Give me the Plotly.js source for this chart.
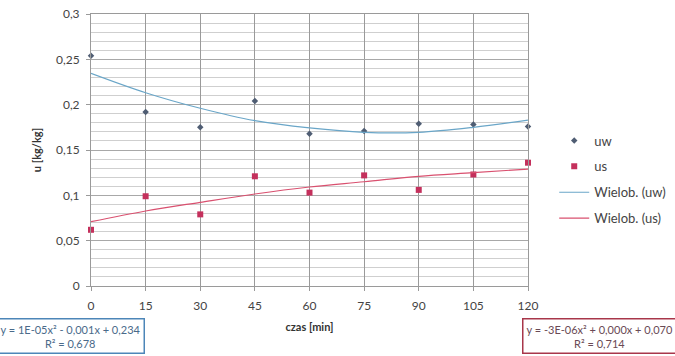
<!DOCTYPE html>
<html><head><meta charset="utf-8">
<script src="https://cdn.plot.ly/plotly-3.0.1.min.js"></script>
<style>html,body{margin:0;padding:0;background:#fff}#c{width:675px;height:356px}</style>
</head><body><div id="c"></div>
<script>
const czas = [0, 15, 30, 45, 60, 75, 90, 105, 120];
const uw = [0.254, 0.192, 0.175, 0.204, 0.168, 0.171, 0.179, 0.178, 0.176];
const us = [0.062, 0.099, 0.079, 0.121, 0.103, 0.122, 0.106, 0.123, 0.136];
const trendUw = [0.2346, 0.2132, 0.196, 0.1823, 0.1743, 0.1695, 0.1695, 0.175, 0.183];
const trendUs = [0.0709, 0.0827, 0.0923, 0.1015, 0.1092, 0.115, 0.121, 0.125, 0.129];
const xTicks = [0, 15, 30, 45, 60, 75, 90, 105, 120];
const eqUw = "y = 1E-05x² - 0,001x + 0,234<br>R² = 0,678";
const eqUs = "y = -3E-06x² + 0,000x + 0,070<br>R² = 0,714";

const F = "Lato, 'Open Sans', sans-serif";
const data = [
  {x: czas, y: uw, name: "uw", legendgroup: "a", mode: "markers", type: "scatter", cliponaxis: false,
   marker: {symbol: "diamond", size: 5, color: "#4f5d73"}},
  {x: czas, y: us, name: "us", legendgroup: "b", mode: "markers", type: "scatter", cliponaxis: false,
   marker: {symbol: "square", size: 6, color: "#c4305c"}},
  {x: czas, y: trendUw, name: "Wielob. (uw)", legendgroup: "c", mode: "lines", type: "scatter",
   line: {shape: "spline", color: "#6aa6c8", width: 1.2}},
  {x: czas, y: trendUs, name: "Wielob. (us)", legendgroup: "d", mode: "lines", type: "scatter",
   line: {shape: "spline", color: "#d9506f", width: 1.2}}
];
const layout = {
  width: 675, height: 356,
  margin: {l: 91, r: 147, t: 14, b: 70, autoexpand: false},
  separators: ", ",
  paper_bgcolor: "#fff", plot_bgcolor: "#fff",
  font: {family: F, size: 11, color: "#444"},
  showlegend: true,
  legend: {x: 1.06, y: 0.59, xanchor: "left", yanchor: "top", font: {size: 13, color: "#444"},
           tracegroupgap: 6, itemwidth: 30, bgcolor: "rgba(0,0,0,0)"},
  xaxis: {range: [0, 120], tickvals: xTicks, ticktext: xTicks.map(String),
          showgrid: true, gridcolor: "#9a9a9a", gridwidth: 1,
          zeroline: false, showline: true, linecolor: "#9a9a9a", mirror: true,
          ticks: "outside", ticklen: 4, tickcolor: "#9a9a9a", ticklabelstandoff: 5,
          tickfont: {size: 12, color: "#444"},
          title: {text: "<b>czas [min]</b>", font: {size: 11, color: "#333"}, standoff: 10}},
  yaxis: {range: [0, 0.3], dtick: 0.05, tick0: 0,
          showgrid: true, gridcolor: "#a8a8a8", gridwidth: 1,
          minor: {dtick: 0.01, showgrid: true, gridcolor: "#cfcfcf", gridwidth: 1},
          zeroline: false, showline: true, linecolor: "#9a9a9a", mirror: true,
          ticks: "outside", ticklen: 4, tickcolor: "#9a9a9a", ticklabelstandoff: 4,
          tickfont: {size: 12, color: "#444"},
          title: {text: "<b>u [kg/kg]</b>", font: {size: 11, color: "#333"}, standoff: 12}},
  annotations: [
    {xref: "paper", yref: "paper", x: -0.048, y: -0.185, xanchor: "center", yanchor: "middle",
     text: eqUw, showarrow: false, align: "center", font: {size: 11, color: "#4a6a8a", family: F},
     bordercolor: "#4d86b8", borderwidth: 1.5, borderpad: 3, bgcolor: "#fff"},
    {xref: "paper", yref: "paper", x: 1.163, y: -0.185, xanchor: "center", yanchor: "middle",
     text: eqUs, showarrow: false, align: "center", font: {size: 11, color: "#6a4a55", family: F},
     bordercolor: "#a8364a", borderwidth: 1.5, borderpad: 3, bgcolor: "#fff"}
  ]
};
Plotly.newPlot("c", data, layout, {displayModeBar: false, staticPlot: true});
</script></body></html>
